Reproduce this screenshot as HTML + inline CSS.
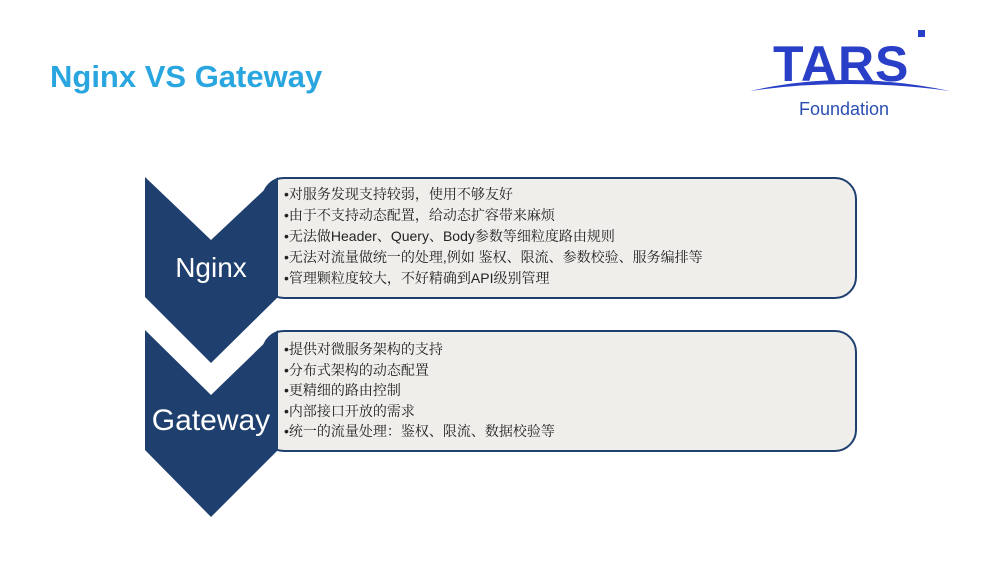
<!DOCTYPE html>
<html><head><meta charset="utf-8"><style>
body{margin:0;width:1000px;height:562px;background:#fff;position:relative;overflow:hidden;font-family:"Liberation Sans","Noto Sans CJK SC",sans-serif}
.t{position:absolute;left:50px;top:59px;font-size:31px;font-weight:bold;color:#29a6df}
.box{position:absolute;left:262px;width:591px;height:118px;background:#efeeeb;border:2px solid #1f3f6e;border-radius:22px}
.lines{position:absolute;left:284px;font-size:14px;line-height:21px;color:#222;font-family:"Liberation Sans","Noto Serif CJK SC",serif}
.lab{position:absolute;color:#fff;font-family:"Liberation Sans",sans-serif;text-align:center;width:140px;left:141px}
</style></head><body>
<div class="t">Nginx VS Gateway</div>
<svg style="position:absolute;left:745px;top:25px" width="215" height="100">
<text x="28" y="56" font-family="Liberation Sans" font-size="50" font-weight="bold" fill="#2a3fc8" letter-spacing="1">TARS</text>
<rect x="173" y="5" width="7" height="7" fill="#2a3fc8"/>
<path d="M5 66 Q100 44 205 66 Q100 52 5 66Z" fill="#2a3fc8"/>
<text x="54" y="90" font-family="Liberation Sans" font-size="18" fill="#2a4fb0">Foundation</text>
</svg>
<div class="box" style="top:177px"></div>
<div class="box" style="top:330px"></div>
<svg style="position:absolute;left:0;top:0" width="1000" height="562">
<polygon points="145,177 211,240 278,177 278,297 211,363 145,297" fill="#1f3f6e"/>
<polygon points="145,330 211,395 278,330 278,450 211,517 145,450" fill="#1f3f6e"/>
</svg>
<div class="lab" style="top:252px;font-size:28px">Nginx</div>
<div class="lab" style="top:404px;font-size:30px">Gateway</div>
<div class="lines" style="top:184px">•对服务发现支持较弱，使用不够友好<br>•由于不支持动态配置，给动态扩容带来麻烦<br>•无法做Header、Query、Body参数等细粒度路由规则<br>•无法对流量做统一的处理,例如 鉴权、限流、参数校验、服务编排等<br>•管理颗粒度较大，不好精确到API级别管理</div>
<div class="lines" style="top:339px;line-height:20.5px">•提供对微服务架构的支持<br>•分布式架构的动态配置<br>•更精细的路由控制<br>•内部接口开放的需求<br>•统一的流量处理：鉴权、限流、数据校验等</div>
</body></html>
